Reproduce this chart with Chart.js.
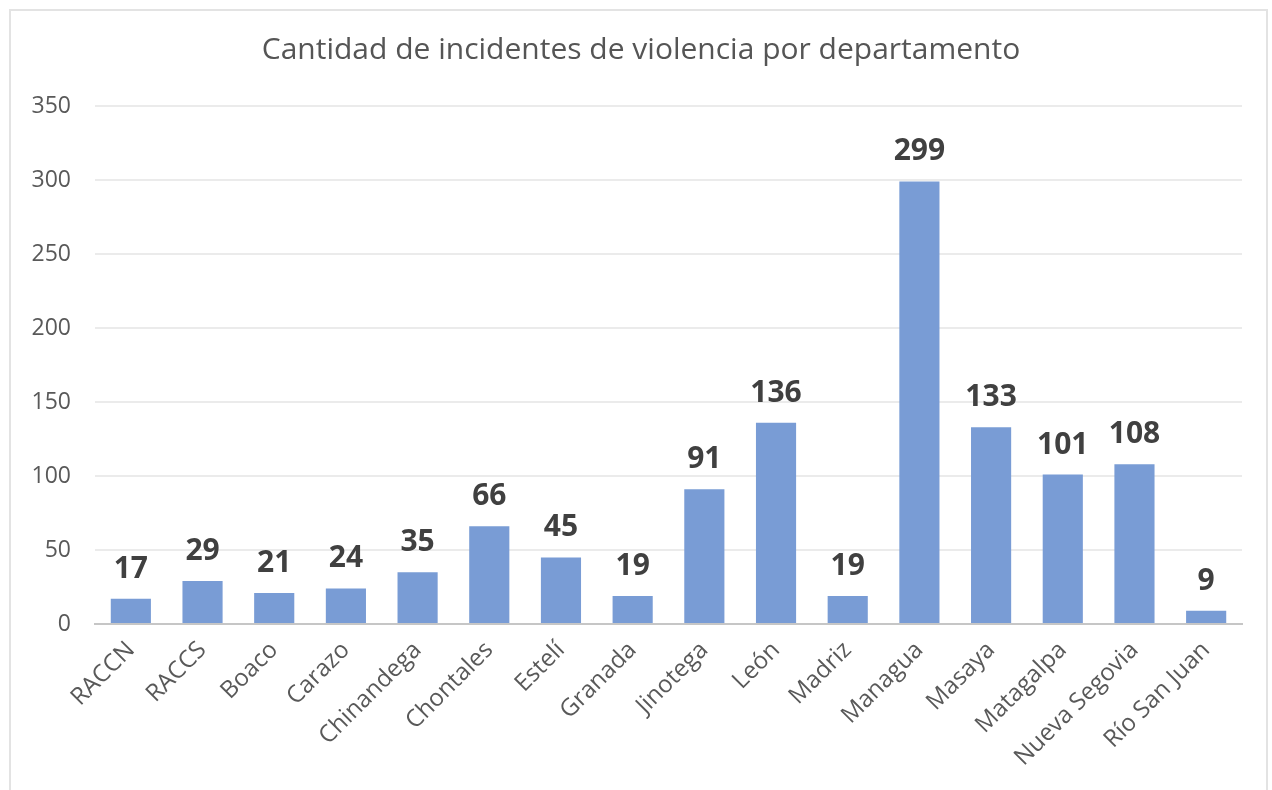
<!DOCTYPE html>
<html>
<head>
<meta charset="utf-8">
<script src="https://cdn.jsdelivr.net/npm/chart.js@4"></script>
<style>
  body { margin: 0; background: #fff; }
  #wrap { position: relative; width: 1272px; height: 790px; overflow: hidden; }
  #frame { position: absolute; left: 9px; top: 9px; width: 1259px; height: 800px; border: 2px solid #e3e3e3; box-sizing: border-box; }
  #bar { position: absolute; left: 0; top: 0; }
</style>
</head>
<body>
<div id="wrap">
  <div id="frame"></div>
  <canvas id="bar" width="1272" height="790"></canvas>
</div>
<script>
// departamentos
var departamentos = ["RACCN", "RACCS", "Boaco", "Carazo", "Chinandega", "Chontales", "Estelí", "Granada",
    "Jinotega", "León", "Madriz", "Managua", "Masaya", "Matagalpa", "Nueva Segovia", "Río San Juan"];
var incidentes = [17, 29, 21, 24, 35, 66, 45, 19, 91, 136, 19, 299, 133, 101, 108, 9];
var ticksY = [0, 50, 100, 150, 200, 250, 300, 350];
var titulo = 'Cantidad de incidentes de violencia por departamento';

var fuente = "'Open Sans', sans-serif";
var azul = '#799cd5';

// titulo del grafico (centrado como en la imagen original)
var tituloPlugin = {
    id: 'tituloPlugin',
    afterDraw: function(chart) {
        var ctx = chart.ctx;
        ctx.save();
        ctx.fillStyle = '#555555';
        ctx.font = '30px ' + fuente;
        ctx.textAlign = 'center';
        ctx.textBaseline = 'middle';
        ctx.fillText(titulo, 641, 50);
        ctx.restore();
    }
};

// etiquetas encima de las barras
var etiquetas = {
    id: 'etiquetas',
    afterDatasetsDraw: function(chart) {
        var ctx = chart.ctx;
        var meta = chart.getDatasetMeta(0);
        ctx.save();
        ctx.fillStyle = '#404040';
        ctx.font = 'bold 30px ' + fuente;
        ctx.textAlign = 'center';
        ctx.textBaseline = 'alphabetic';
        meta.data.forEach(function(bar, i) {
            ctx.fillText(incidentes[i], bar.x, bar.y - 21);
        });
        ctx.restore();
    }
};

var BARCHART = document.getElementById('bar');
var myBarChart = new Chart(BARCHART, {
    type: 'bar',
    data: {
        labels: departamentos,
        datasets: [{
            data: incidentes,
            backgroundColor: azul,
            borderWidth: 0,
            barPercentage: 0.56,
            categoryPercentage: 1
        }]
    },
    options: {
        responsive: false,
        animation: false,
        layout: { padding: { left: 10, right: 30, top: 106, bottom: 0 } },
        plugins: {
            legend: { display: false },
            tooltip: { enabled: false },
            title: { display: false }
        },
        scales: {
            x: {
                grid: { display: false },
                border: { color: '#c6c6c6', width: 2 },
                ticks: {
                    color: '#595959',
                    font: { family: fuente, size: 24 },
                    minRotation: 45,
                    maxRotation: 45,
                    padding: 4
                },
                afterFit: function(scale) { scale.height = 166; }
            },
            y: {
                min: 0,
                max: 350,
                afterBuildTicks: function(scale) {
                    scale.ticks = ticksY.map(function(v) { return { value: v }; });
                },
                grid: { color: '#ebebeb', lineWidth: 2, drawTicks: false },
                border: { display: false },
                ticks: {
                    color: '#595959',
                    font: { family: fuente, size: 23 },
                    padding: 24
                },
                afterFit: function(scale) { scale.width = 85; }
            }
        }
    },
    plugins: [etiquetas, tituloPlugin]
});
</script>
</body>
</html>
